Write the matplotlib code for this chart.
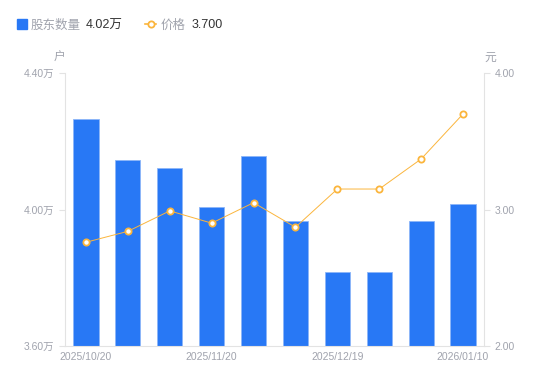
import matplotlib
matplotlib.use('Agg')
import matplotlib.pyplot as plt
from matplotlib.lines import Line2D
from matplotlib.patches import Rectangle

plt.rcParams['font.family'] = ['Liberation Sans', 'Noto Sans CJK SC', 'DejaVu Sans']

dates = ['2025/10/20', '2025/10/31', '2025/11/10', '2025/11/20', '2025/11/28',
         '2025/12/10', '2025/12/19', '2025/12/31', '2026/01/05', '2026/01/10']
holders = [4.265, 4.145, 4.122, 4.007, 4.157, 3.966, 3.817, 3.817, 3.966, 4.015]  # 万户
prices = [2.76, 2.84, 2.99, 2.90, 3.05, 2.87, 3.15, 3.15, 3.37, 3.70]
shown_ticks = [0, 3, 6, 9]

BLUE = '#2878f5'
ORANGE = '#fbb53c'
GRAY = '#a0a3ad'
AXIS = '#e3e3e3'

fig = plt.figure(figsize=(5.5, 3.81), dpi=100)
ax = fig.add_axes([65 / 550, 35 / 381, 419 / 550, 273 / 381])
x = range(len(dates))
ax.bar(x, holders, width=0.6, color=BLUE, edgecolor='#8db6f8', linewidth=0.6, bottom=0)
ax.set_ylim(3.6, 4.4)
ax.set_xlim(-0.5, len(dates) - 0.5)
ax.set_yticks([3.6, 4.0, 4.4])
ax.set_yticklabels([f'{v:.2f}万' for v in [3.6, 4.0, 4.4]])
ax.set_xticks(shown_ticks)
ax.set_xticklabels([dates[i] for i in shown_ticks])

ax2 = ax.twinx()
ax2.plot(x, prices, color=ORANGE, linewidth=0.7, marker='o', markersize=4.5,
         markerfacecolor='white', markeredgecolor=ORANGE, markeredgewidth=1.3)
ax2.set_ylim(2.0, 4.0)
ax2.set_yticks([2.0, 3.0, 4.0])
ax2.set_yticklabels(['2.00', '3.00', '4.00'])

for a in (ax, ax2):
    for s in a.spines.values():
        s.set_color(AXIS)
    a.spines['top'].set_visible(False)
    a.tick_params(colors=AXIS, labelcolor=GRAY, labelsize=7.5, length=4, width=0.8)
ax.spines['right'].set_visible(False)
ax2.spines['left'].set_visible(False)
ax2.spines['bottom'].set_visible(False)
ax.tick_params(axis='x', length=0, pad=4)

fig.text(60 / 550, 1 - 58 / 381, '户', color=GRAY, fontsize=8.5, ha='center', va='center')
fig.text(490 / 550, 1 - 58 / 381, '元', color=GRAY, fontsize=8.5, ha='center', va='center')

# legend row
ly = 1 - 25.5 / 381
fig.patches.append(Rectangle((17 / 550, 1 - 29 / 381), 10 / 550, 10 / 381,
                             transform=fig.transFigure, color=BLUE, figure=fig))
fig.text(31 / 550, ly, '股东数量', color=GRAY, fontsize=9, va='center')
fig.text(86 / 550, ly, f'{holders[-1] + 0.005:.2f}万', color='#333333', fontsize=9, va='center')
fig.lines.append(Line2D([145 / 550, 156 / 550], [1 - 24 / 381, 1 - 24 / 381],
                        transform=fig.transFigure, color=ORANGE, linewidth=1.2))
fig.lines.append(Line2D([150.5 / 550], [1 - 24 / 381], transform=fig.transFigure,
                        color=ORANGE, marker='o', markersize=4.5, markerfacecolor='white',
                        markeredgewidth=1.3, linestyle='none'))
fig.text(161 / 550, ly, '价格', color=GRAY, fontsize=9, va='center')
fig.text(192 / 550, ly, f'{prices[-1]:.3f}', color='#333333', fontsize=9, va='center')

fig.savefig('out.png', dpi=100)
